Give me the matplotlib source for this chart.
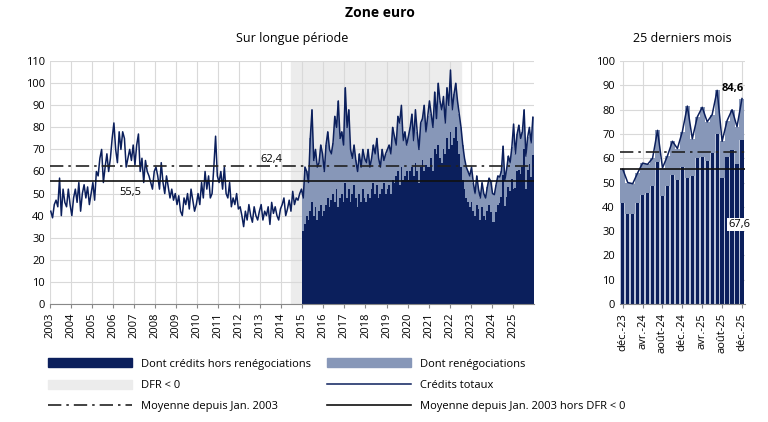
import numpy as np
import matplotlib
matplotlib.use("Agg")
import matplotlib.pyplot as plt
from matplotlib.patches import Patch
from matplotlib.lines import Line2D

# Crédits totaux, mensuel, janv. 2003 -> déc. 2025
total = [
    42, 39, 45, 47, 44, 57, 40, 52, 46, 44, 52, 45,   # 2003
    40, 48, 52, 46, 55, 42, 50, 54, 48, 53, 45, 50,   # 2004
    55, 47, 60, 58, 66, 70, 55, 62, 68, 60, 66, 75,   # 2005
    82, 70, 64, 78, 70, 78, 75, 62, 66, 70, 65, 72,   # 2006
    63, 72, 77, 60, 66, 55, 65, 60, 58, 55, 52, 60,   # 2007
    62, 58, 52, 64, 55, 50, 58, 53, 48, 52, 47, 50,   # 2008
    45, 49, 42, 40, 48, 45, 50, 43, 52, 47, 42, 45,   # 2009
    50, 45, 55, 48, 60, 52, 58, 48, 50, 62, 76, 58,   # 2010
    55, 60, 52, 62, 50, 48, 55, 44, 48, 45, 50, 43,   # 2011
    44, 40, 35, 42, 38, 45, 40, 37, 44, 40, 38, 42,   # 2012
    45, 38, 42, 40, 44, 36, 46, 41, 44, 40, 38, 43,   # 2013
    45, 48, 40, 43, 47, 42, 51, 45, 48, 47, 50, 52,   # 2014
    48, 62, 60, 55, 75, 88, 65, 70, 62, 64, 72, 68,   # 2015
    60, 72, 78, 70, 68, 73, 85, 80, 92, 75, 78, 72,   # 2016
    98, 80, 88, 70, 66, 72, 65, 60, 68, 62, 70, 66,   # 2017
    64, 70, 62, 66, 72, 68, 75, 66, 62, 70, 65, 68,   # 2018
    70, 72, 68, 80, 76, 72, 85, 82, 90, 74, 78, 72,   # 2019
    76, 80, 86, 74, 88, 78, 70, 82, 84, 90, 78, 85,   # 2020
    92, 86, 80, 96, 84, 100, 92, 88, 94, 82, 98, 90,  # 2021
    106, 88, 95, 100, 92, 86, 80, 72, 66, 62, 60, 58, # 2022
    62, 55, 50, 58, 52, 48, 55, 50, 48, 53, 57, 55.5, # 2023
    50, 49.5, 54, 58, 57.5, 60, 71.5, 56, 61, 67, 64, 71,   # 2024
    81.5, 68, 77, 81, 75, 78, 88, 67, 75.5, 80, 73, 84.6,   # 2025
]

# Dont crédits hors renégociations, janv. 2015 -> déc. 2025
hors_reneg = [
    33, 36, 40, 38, 42, 46, 40, 44, 38, 42, 45, 40,   # 2015
    42, 45, 48, 44, 47, 50, 46, 52, 44, 48, 50, 46,   # 2016
    55, 48, 52, 46, 50, 54, 48, 44, 50, 46, 52, 48,   # 2017
    46, 50, 48, 52, 55, 50, 54, 48, 50, 52, 55, 50,   # 2018
    52, 54, 50, 56, 55, 58, 60, 54, 62, 56, 58, 60,   # 2019
    56, 60, 62, 58, 64, 60, 55, 62, 65, 60, 63, 62,   # 2020
    62, 66, 60, 70, 68, 72, 66, 64, 70, 68, 75, 70,   # 2021
    78, 72, 75, 80, 74, 68, 62, 56, 52, 48, 46, 44,   # 2022
    46, 42, 40, 45, 43, 38, 44, 40, 38, 42, 45, 41.5, # 2023
    37, 37, 41.5, 45, 45.5, 48.5, 58.5, 44.5, 48.5, 53, 51, 56.5,  # 2024
    52, 52.5, 60, 60.5, 59, 62, 70, 52, 60.5, 63.5, 57.5, 67.6,    # 2025
]

moyenne = 62.4
moyenne_hors_dfr = 55.5
dfr_debut, dfr_fin = 2014.45, 2022.55
annees = list(range(2003, 2026))
mois_recent = ["déc.-23", "janv.-24", "févr.-24", "mars-24", "avr.-24", "mai-24", "juin-24",
               "juil.-24", "août-24", "sept.-24", "oct.-24", "nov.-24", "déc.-24",
               "janv.-25", "févr.-25", "mars-25", "avr.-25", "mai-25", "juin-25",
               "juil.-25", "août-25", "sept.-25", "oct.-25", "nov.-25", "déc.-25"]

navy = "#0b1f5c"
clair = "#8797b8"
gris = "#ececec"

plt.rcParams["font.family"] = ["Open Sans", "DejaVu Sans"]
plt.rcParams["font.size"] = 8

fig = plt.figure(figsize=(7.68, 4.22), dpi=100)
ax = fig.add_axes([0.065, 0.28, 0.63, 0.575])
ax2 = fig.add_axes([0.807, 0.28, 0.163, 0.575])

t = 2003 + np.arange(len(total)) / 12
tot = np.array(total)
hr = np.array(hors_reneg)
tb = t[-len(hr):]
tot_b = tot[-len(hr):]

ax.axvspan(dfr_debut, dfr_fin, color=gris, zorder=0)
ax.bar(tb, hr, width=1 / 12, align="edge", color=navy, linewidth=0, zorder=2)
ax.bar(tb, tot_b - hr, bottom=hr, width=1 / 12, align="edge", color=clair, linewidth=0, zorder=2)
ax.plot(t + 1 / 24, tot, color=navy, lw=1.1, zorder=3)
ax.axhline(moyenne, color="#222222", lw=1.2, ls=(0, (8, 3, 1.5, 3)), zorder=4)
ax.axhline(moyenne_hors_dfr, color="#111111", lw=1.2, zorder=4)
ax.text(2013.0, moyenne + 2, "62,4", fontsize=8)
ax.text(2006.3, moyenne_hors_dfr - 6, "55,5", fontsize=8)
ax.set_xlim(2003, 2026)
ax.set_ylim(0, 110)
ax.set_xticks(annees)
ax.set_xticklabels([str(a) for a in annees], rotation=90)
ax.set_yticks(range(0, 111, 10))
ax.grid(color="#d9d9d9", lw=0.8, zorder=1)
ax.set_axisbelow(True)
ax.set_title("Sur longue période", fontsize=9, pad=14)

# 25 derniers mois
x2 = np.arange(len(mois_recent))
tot2 = tot[-len(mois_recent):]
hr2 = hr[-len(mois_recent):]
ax2.bar(x2, hr2, width=0.65, color=navy, linewidth=0, zorder=2)
ax2.bar(x2, tot2 - hr2, bottom=hr2, width=1.0, color=clair, linewidth=0, zorder=1.5)
ax2.bar(x2, hr2, width=1.0, color="#b9c3d8", linewidth=0, zorder=1.4)
ax2.plot(x2, tot2, color=navy, lw=1.1, zorder=3)
ax2.axhline(moyenne, color="#222222", lw=1.2, ls=(0, (8, 3, 1.5, 3)), zorder=4)
ax2.axhline(moyenne_hors_dfr, color="#111111", lw=1.2, zorder=4)
ax2.text(x2[-1] + 0.3, tot2[-1] + 3, "84,6", fontsize=8, fontweight="bold", ha="right")
ax2.text(x2[-1] + 1.6, hr2[-1] - 36, "67,6", fontsize=8, ha="right",
         bbox=dict(facecolor="white", edgecolor="none", pad=1))
ax2.set_xlim(-0.6, len(mois_recent) - 0.4)
ax2.set_ylim(0, 100)
ax2.set_yticks(range(0, 101, 10))
ax2.set_xticks(x2[::4])
ax2.set_xticklabels(mois_recent[::4], rotation=90)
ax2.grid(color="#d9d9d9", lw=0.8, zorder=0)
ax2.set_axisbelow(True)
ax2.set_title("25 derniers mois", fontsize=9, pad=14)

for a in (ax, ax2):
    for s in a.spines.values():
        s.set_visible(False)
    a.spines["bottom"].set_visible(True)
    a.spines["bottom"].set_color("#888888")
    a.tick_params(length=3, color="#888888", labelsize=8)
    a.tick_params(axis="y", length=0)

fig.text(0.495, 0.97, "Zone euro", ha="center", va="center", fontsize=10, fontweight="bold")

handles = [
    Patch(color=navy), Patch(color=gris),
    Line2D([], [], color="#222222", lw=1.2, ls=(0, (8, 3, 1.5, 3))),
    Patch(color=clair), Line2D([], [], color=navy, lw=1.1),
    Line2D([], [], color="#111111", lw=1.2),
]
labels = ["Dont crédits hors renégociations", "DFR < 0", "Moyenne depuis Jan. 2003",
          "Dont renégociations", "Crédits totaux", "Moyenne depuis Jan. 2003 hors DFR < 0"]
fig.legend(handles, labels, ncol=2, loc="upper left", bbox_to_anchor=(0.05, 0.175),
           frameon=False, fontsize=8, handlelength=7.5, columnspacing=1.5,
           labelspacing=0.9, handleheight=0.9)

fig.savefig("out.png", dpi=100)
